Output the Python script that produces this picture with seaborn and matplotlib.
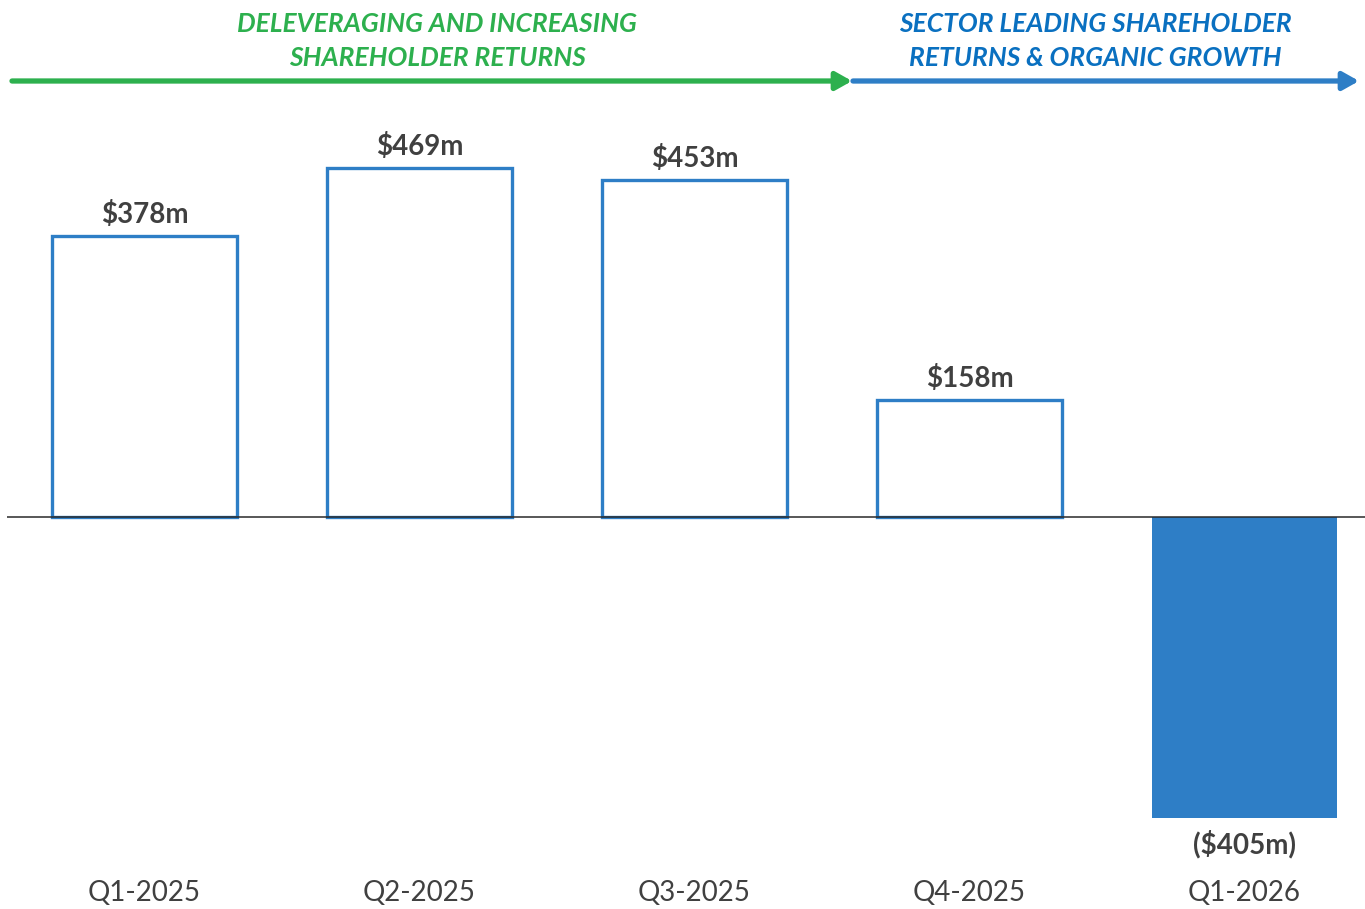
import matplotlib
matplotlib.use('Agg')
import matplotlib.pyplot as plt
import seaborn as sns
import pandas as pd

# 数据
quarters = ['Q1-2025', 'Q2-2025', 'Q3-2025', 'Q4-2025', 'Q1-2026']
values = [378, 469, 453, 158, -405]
value_labels = ['$378m', '$469m', '$453m', '$158m', '($405m)']
phase_labels = ['DELEVERAGING AND INCREASING\nSHAREHOLDER RETURNS',
                'SECTOR LEADING SHAREHOLDER\nRETURNS & ORGANIC GROWTH']

blue = '#2E7EC6'
green = '#2DB04E'
text_blue = '#0A70C0'
grey = '#404040'

sns.set_theme(style='white')
plt.rcParams['font.family'] = ['Lato', 'DejaVu Sans']

df = pd.DataFrame({'quarter': quarters, 'value': values})

fig = plt.figure(figsize=(13.65, 9.09), dpi=100)
# 坐标轴覆盖整张图, 用像素换算
ax = fig.add_axes([7 / 1365, 0, 1 - 7 / 1365, 1])
px = 0.7434  # 每单位像素

sns.barplot(data=df, x='quarter', y='value', color=blue, width=0.673,
            saturation=1, ax=ax)
ax.set_ylim(-(909 - 517) / px, 517 / px)
ax.set_xlim(-0.5, (1365 - 144.5) / 275)
for p, v in zip(ax.patches, values):
    if v > 0:
        p.set_facecolor('white')
        p.set_edgecolor(blue)
        p.set_linewidth(2.4)
    else:
        p.set_facecolor(blue)
        p.set_edgecolor(blue)
        p.set_linewidth(0)

ax.axhline(0, color='#2a2a2a', lw=1.1, zorder=5)

for i, (v, lab) in enumerate(zip(values, value_labels)):
    if v > 0:
        ax.text(i, v + 8 / px, lab, ha='center', va='bottom', fontsize=20,
                fontweight='bold', color=grey)
    else:
        ax.text(i, v - 12 / px, lab, ha='center', va='top', fontsize=20,
                fontweight='bold', color=grey)
    ax.text(i, -(893 - 517) / px, quarters[i], ha='center', va='center',
            fontsize=20, color=grey)

ax.set_axis_off()

# 顶部箭头和标题
ax.annotate('', xy=(852 / 1365, 1 - 81 / 909), xytext=(12 / 1365, 1 - 81 / 909),
            xycoords='figure fraction', textcoords='figure fraction',
            arrowprops=dict(arrowstyle='-|>,head_length=0.8,head_width=0.45',
                            color=green, lw=3.8, shrinkA=0, shrinkB=0))
ax.annotate('', xy=(1359 / 1365, 1 - 81 / 909), xytext=(853 / 1365, 1 - 81 / 909),
            xycoords='figure fraction', textcoords='figure fraction',
            arrowprops=dict(arrowstyle='-|>,head_length=0.8,head_width=0.45',
                            color=blue, lw=3.8, shrinkA=0, shrinkB=0))
fig.text(437 / 1365, 1 - 41 / 909, phase_labels[0], ha='center', va='center',
         fontsize=19, fontweight='bold', fontstyle='italic', color=green,
         linespacing=1.5)
fig.text(1095 / 1365, 1 - 41 / 909, phase_labels[1], ha='center', va='center',
         fontsize=19, fontweight='bold', fontstyle='italic', color=text_blue,
         linespacing=1.5)

fig.savefig('out.png', dpi=100)
